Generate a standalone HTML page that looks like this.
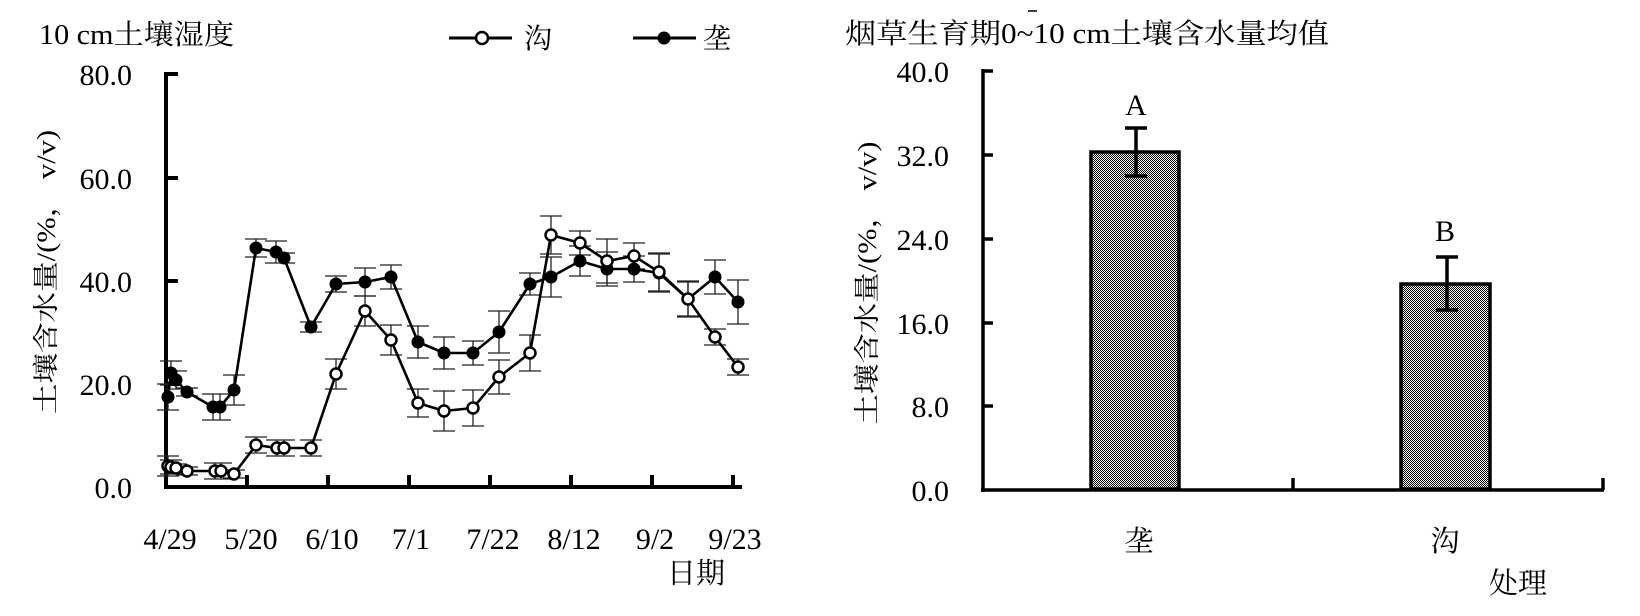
<!DOCTYPE html>
<html><head><meta charset="utf-8"><style>
html,body{margin:0;padding:0;background:#fff;}
svg{display:block;}
text{font-family:"Liberation Serif","Noto Serif CJK SC",serif;fill:#000;}
.cj{font-family:"Liberation Serif","Noto Serif CJK SC","Noto Sans CJK SC",serif;}
</style></head><body>
<svg width="1640" height="616" viewBox="0 0 1640 616" xmlns="http://www.w3.org/2000/svg">
<defs>
<pattern id="chk" width="2" height="2" patternUnits="userSpaceOnUse">
<rect width="2" height="2" fill="#fff"/><rect width="1" height="1" fill="#000"/><rect x="1" y="1" width="1" height="1" fill="#000"/>
</pattern>
</defs>
<!-- LEFT CHART -->
<text x="39" y="44" font-size="28" class="cj" textLength="195" lengthAdjust="spacingAndGlyphs">10 cm土壤湿度</text>
<line x1="449" y1="38" x2="512" y2="38" stroke="#000" stroke-width="3"/>
<circle cx="482" cy="38" r="6" fill="#fff" stroke="#000" stroke-width="2.5"/>
<text x="524" y="48" font-size="28" class="cj">沟</text>
<line x1="633" y1="38" x2="696" y2="38" stroke="#000" stroke-width="3"/>
<circle cx="664" cy="38" r="6.5" fill="#000"/>
<text x="703" y="48" font-size="28" class="cj">垄</text>

<g stroke="#000" stroke-width="4" fill="none">
<line x1="166" y1="72" x2="166" y2="489"/>
<line x1="164" y1="487" x2="742" y2="487"/>
<line x1="166" y1="74" x2="178" y2="74"/>
<line x1="166" y1="178" x2="178" y2="178"/>
<line x1="166" y1="281" x2="178" y2="281"/>
<line x1="166" y1="384" x2="178" y2="384"/>
<line x1="247" y1="487" x2="247" y2="475"/>
<line x1="328" y1="487" x2="328" y2="475"/>
<line x1="409" y1="487" x2="409" y2="475"/>
<line x1="490" y1="487" x2="490" y2="475"/>
<line x1="571" y1="487" x2="571" y2="475"/>
<line x1="652" y1="487" x2="652" y2="475"/>
<line x1="733" y1="487" x2="733" y2="475"/>
</g>
<g font-size="30" text-anchor="end">
<text x="132" y="85">80.0</text>
<text x="132" y="189">60.0</text>
<text x="132" y="292">40.0</text>
<text x="132" y="395">20.0</text>
<text x="132" y="498">0.0</text>
</g>
<g font-size="30" text-anchor="middle">
<text x="170" y="549">4/29</text>
<text x="251" y="549">5/20</text>
<text x="332" y="549">6/10</text>
<text x="411" y="549">7/1</text>
<text x="493" y="549">7/22</text>
<text x="574" y="549">8/12</text>
<text x="655" y="549">9/2</text>
<text x="735" y="549">9/23</text>
</g>
<text x="667" y="583" font-size="29" class="cj">日期</text>
<text transform="translate(55,272) rotate(-90)" font-size="26" class="cj" text-anchor="middle" textLength="284" lengthAdjust="spacingAndGlyphs">土壤含水量/(%，  v/v)</text>

<g stroke="#222" stroke-width="1.3" fill="none">
<path d="M168 384V410M157 384H179M157 410H179
M171 361V385M160 361H182M160 385H182
M176 371V389M165 371H187M165 389H187
M187 388V396M176 388H198M176 396H198
M213 394V420M202 394H224M202 420H224
M220 394V420M209 394H231M209 420H231
M234 375V405M223 375H245M223 405H245
M256 239V257M245 239H267M245 257H267
M276 241V263M265 241H287M265 263H287
M284 253V263M273 253H295M273 263H295
M311 322V332M300 322H322M300 332H322
M336 276V292M325 276H347M325 292H347
M365 268V296M354 268H376M354 296H376
M391 265V289M380 265H402M380 289H402
M418 326V358M407 326H429M407 358H429
M444 337V369M433 337H455M433 369H455
M473 341V365M462 341H484M462 365H484
M499 311V353M488 311H510M488 353H510
M530 273V295M519 273H541M519 295H541
M551 257V297M540 257H562M540 297H562
M580 246V276M569 246H591M569 276H591
M607 252V286M596 252H618M596 286H618
M634 256V282M623 256H645M623 282H645
M659 254V292M648 254H670M648 292H670
M688 281V317M677 281H699M677 317H699
M715 260V294M704 260H726M704 294H726
M738 280V324M727 280H749M727 324H749"/>
<path d="M168 456V476M157 456H179M157 476H179
M171 460V474M160 460H182M160 474H182
M176 464V472M165 464H187M165 472H187
M187 467V475M176 467H198M176 475H198
M215 463V479M204 463H226M204 479H226
M221 463V479M210 463H232M210 479H232
M234 470V478M223 470H245M223 478H245
M256 437V453M245 437H267M245 453H267
M277 440V456M266 440H288M266 456H288
M284 440V456M273 440H295M273 456H295
M311 440V456M300 440H322M300 456H322
M336 359V389M325 359H347M325 389H347
M365 296V326M354 296H376M354 326H376
M391 325V355M380 325H402M380 355H402
M418 389V417M407 389H429M407 417H429
M444 391V431M433 391H455M433 431H455
M473 390V426M462 390H484M462 426H484
M499 360V394M488 360H510M488 394H510
M530 335V371M519 335H541M519 371H541
M551 216V254M540 216H562M540 254H562
M580 231V255M569 231H591M569 255H591
M607 239V283M596 239H618M596 283H618
M634 243V269M623 243H645M623 269H645
M659 253V291M648 253H670M648 291H670
M688 282V316M677 282H699M677 316H699
M715 329V345M704 329H726M704 345H726
M738 359V375M727 359H749M727 375H749"/>
</g>
<polyline fill="none" stroke="#000" stroke-width="2.6" stroke-linejoin="round" points="168,397 171,373 176,380 187,392 213,407 220,407 234,390 256,248 276,252 284,258 311,327 336,284 365,282 391,277 418,342 444,353 473,353 499,332 530,284 551,277 580,261 607,269 634,269 659,273 688,299 715,277 738,302"/>
<polyline fill="none" stroke="#000" stroke-width="2.6" stroke-linejoin="round" points="168,466 171,467 176,468 187,471 215,471 221,471 234,474 256,445 277,448 284,448 311,448 336,374 365,311 391,340 418,403 444,411 473,408 499,377 530,353 551,235 580,243 607,261 634,256 659,272 688,299 715,337 738,367"/>
<g fill="#000">
<circle cx="168" cy="397" r="6.5"/><circle cx="171" cy="373" r="6.5"/><circle cx="176" cy="380" r="6.5"/><circle cx="187" cy="392" r="6.5"/><circle cx="213" cy="407" r="6.5"/><circle cx="220" cy="407" r="6.5"/><circle cx="234" cy="390" r="6.5"/><circle cx="256" cy="248" r="6.5"/><circle cx="276" cy="252" r="6.5"/><circle cx="284" cy="258" r="6.5"/><circle cx="311" cy="327" r="6.5"/><circle cx="336" cy="284" r="6.5"/><circle cx="365" cy="282" r="6.5"/><circle cx="391" cy="277" r="6.5"/><circle cx="418" cy="342" r="6.5"/><circle cx="444" cy="353" r="6.5"/><circle cx="473" cy="353" r="6.5"/><circle cx="499" cy="332" r="6.5"/><circle cx="530" cy="284" r="6.5"/><circle cx="551" cy="277" r="6.5"/><circle cx="580" cy="261" r="6.5"/><circle cx="607" cy="269" r="6.5"/><circle cx="634" cy="269" r="6.5"/><circle cx="659" cy="273" r="6.5"/><circle cx="688" cy="299" r="6.5"/><circle cx="715" cy="277" r="6.5"/><circle cx="738" cy="302" r="6.5"/>
</g>
<g fill="#fff" stroke="#000" stroke-width="2.5">
<circle cx="168" cy="466" r="5.5"/><circle cx="171" cy="467" r="5.5"/><circle cx="176" cy="468" r="5.5"/><circle cx="187" cy="471" r="5.5"/><circle cx="215" cy="471" r="5.5"/><circle cx="221" cy="471" r="5.5"/><circle cx="234" cy="474" r="5.5"/><circle cx="256" cy="445" r="5.5"/><circle cx="277" cy="448" r="5.5"/><circle cx="284" cy="448" r="5.5"/><circle cx="311" cy="448" r="5.5"/><circle cx="336" cy="374" r="5.5"/><circle cx="365" cy="311" r="5.5"/><circle cx="391" cy="340" r="5.5"/><circle cx="418" cy="403" r="5.5"/><circle cx="444" cy="411" r="5.5"/><circle cx="473" cy="408" r="5.5"/><circle cx="499" cy="377" r="5.5"/><circle cx="530" cy="353" r="5.5"/><circle cx="551" cy="235" r="5.5"/><circle cx="580" cy="243" r="5.5"/><circle cx="607" cy="261" r="5.5"/><circle cx="634" cy="256" r="5.5"/><circle cx="659" cy="272" r="5.5"/><circle cx="688" cy="299" r="5.5"/><circle cx="715" cy="337" r="5.5"/><circle cx="738" cy="367" r="5.5"/>
</g>

<!-- RIGHT CHART -->
<text x="845" y="43" font-size="28" class="cj" textLength="484" lengthAdjust="spacingAndGlyphs">烟草生育期0~10 cm土壤含水量均值</text>
<line x1="1028" y1="11" x2="1037" y2="11" stroke="#000" stroke-width="1.5"/>
<g stroke="#000" stroke-width="3.5" fill="none">
<line x1="983" y1="69" x2="983" y2="492"/>
<line x1="981" y1="490" x2="1604" y2="490"/>
<line x1="983" y1="71" x2="993" y2="71"/>
<line x1="983" y1="155" x2="993" y2="155"/>
<line x1="983" y1="239" x2="993" y2="239"/>
<line x1="983" y1="323" x2="993" y2="323"/>
<line x1="983" y1="406" x2="993" y2="406"/>
<line x1="1293" y1="490" x2="1293" y2="478"/>
<line x1="1603" y1="490" x2="1603" y2="478"/>
</g>
<g font-size="30" text-anchor="end">
<text x="949" y="82">40.0</text>
<text x="949" y="166">32.0</text>
<text x="949" y="250">24.0</text>
<text x="949" y="334">16.0</text>
<text x="949" y="417">8.0</text>
<text x="949" y="501">0.0</text>
</g>
<text transform="translate(876,283) rotate(-90)" font-size="26" class="cj" text-anchor="middle" textLength="283" lengthAdjust="spacingAndGlyphs">土壤含水量/(%，  v/v)</text>
<rect x="1091" y="152" width="88" height="337" fill="url(#chk)" stroke="#000" stroke-width="3.5"/>
<rect x="1401" y="284" width="89" height="205" fill="url(#chk)" stroke="#000" stroke-width="3.5"/>
<g stroke="#000" stroke-width="3.5">
<line x1="1136" y1="128" x2="1136" y2="176"/><line x1="1125" y1="128" x2="1147" y2="128"/><line x1="1125" y1="176" x2="1147" y2="176"/>
<line x1="1447" y1="257" x2="1447" y2="310"/><line x1="1436" y1="257" x2="1458" y2="257"/><line x1="1436" y1="310" x2="1458" y2="310"/>
</g>
<text x="1136" y="115" font-size="30" text-anchor="middle">A</text>
<text x="1445" y="241" font-size="30" text-anchor="middle">B</text>
<text x="1139" y="551" font-size="29" class="cj" text-anchor="middle">垄</text>
<text x="1445" y="551" font-size="29" class="cj" text-anchor="middle">沟</text>
<text x="1518" y="593" font-size="29" class="cj" text-anchor="middle">处理</text>
</svg>
</body></html>
